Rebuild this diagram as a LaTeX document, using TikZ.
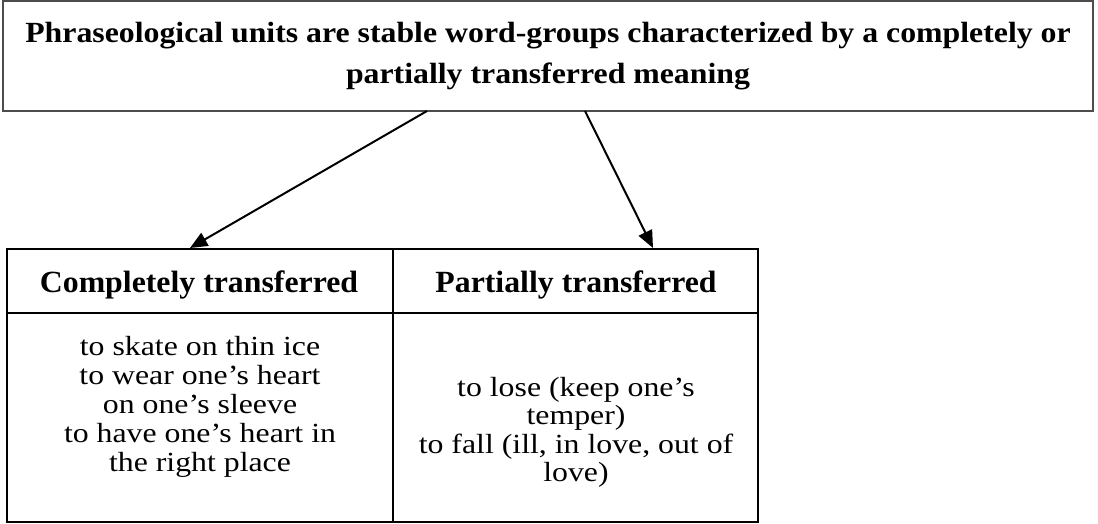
\documentclass[tikz,border=0pt]{standalone}
\usepackage{fontspec}
\setmainfont{Liberation Serif}
\usepackage{graphicx}
\usetikzlibrary{arrows.meta}

\newcommand\titlefont{\fontsize{23.85}{33}\selectfont\bfseries}
\newcommand\headfont{\fontsize{23.85}{28}\selectfont\bfseries}
\newcommand\bodyfont{\fontsize{23.85}{24.4}\selectfont}
\newcommand\bodyfontloose{\fontsize{23.85}{25}\selectfont}
% centred lines at a fixed baseline distance; the box's baseline is that of the first line
\newcommand\stacklines[1]{\vtop{\lineskiplimit=-100pt\lineskip=0pt
  \halign{\hfil##\hfil\cr #1\crcr}}}
% text kept at full width but set slightly lower
\newcommand\squeezed[2]{\scalebox{1}[#1]{#2}}

\begin{document}
\begin{tikzpicture}[x=0.75pt,y=-0.75pt,
  frame/.style={draw=black!70, line width=1.1pt, inner sep=0pt,
    minimum width=817.5pt, minimum height=82.5pt},
  cell/.style={draw=black, line width=1.2pt, inner sep=0pt},
  headcell/.style={cell, minimum height=48pt},
  bodycell/.style={cell, minimum height=156.75pt},
  leftcol/.style={minimum width=289.5pt},
  rightcol/.style={minimum width=273.75pt},
  label/.style={anchor=base, inner sep=0pt},
  arr/.style={line width=1.5pt, -{Triangle[length=13pt, width=11pt]}}]

\useasboundingbox (0,0) rectangle (1098,524);

% definition box
\node[frame] (def) at (548,56) {};
\node[label] (deftext) at (548,43) {\titlefont\squeezed{0.92}{\stacklines{%
  Phraseological units are stable word-groups characterized by a completely or\cr
  partially transferred meaning}}};

% two-column table
\node[headcell, leftcol]  (hc) at (200,281) {};
\node[headcell, rightcol] (hp) at (575.5,281) {};
\node[bodycell, leftcol]  (bc) at (200,417.5) {};
\node[bodycell, rightcol] (bp) at (575.5,417.5) {};

\node[label] (hctext) at (199,292) {\headfont\squeezed{0.97}{Completely transferred}};
\node[label] (hptext) at (576,292) {\headfont\squeezed{0.97}{Partially transferred}};

\node[label] (bctext) at (200,355) {\bodyfontloose\squeezed{0.87}{\stacklines{%
  to skate on thin ice\cr
  to wear one’s heart\cr
  on one’s sleeve\cr
  to have one’s heart in\cr
  the right place}}};

\node[label] (bptext) at (576,396.5) {\bodyfont\squeezed{0.87}{\stacklines{%
  to lose (keep one’s\cr
  temper)\cr
  to fall (ill, in love, out of\cr
  love)}}};

% connectors
\coordinate (s1) at (427,111);
\coordinate (e1) at (190,248);
\coordinate (s2) at (585,111);
\coordinate (e2) at (653,248);
\draw[arr] (s1) -- (e1);
\draw[arr] (s2) -- (e2);
\end{tikzpicture}
\end{document}
